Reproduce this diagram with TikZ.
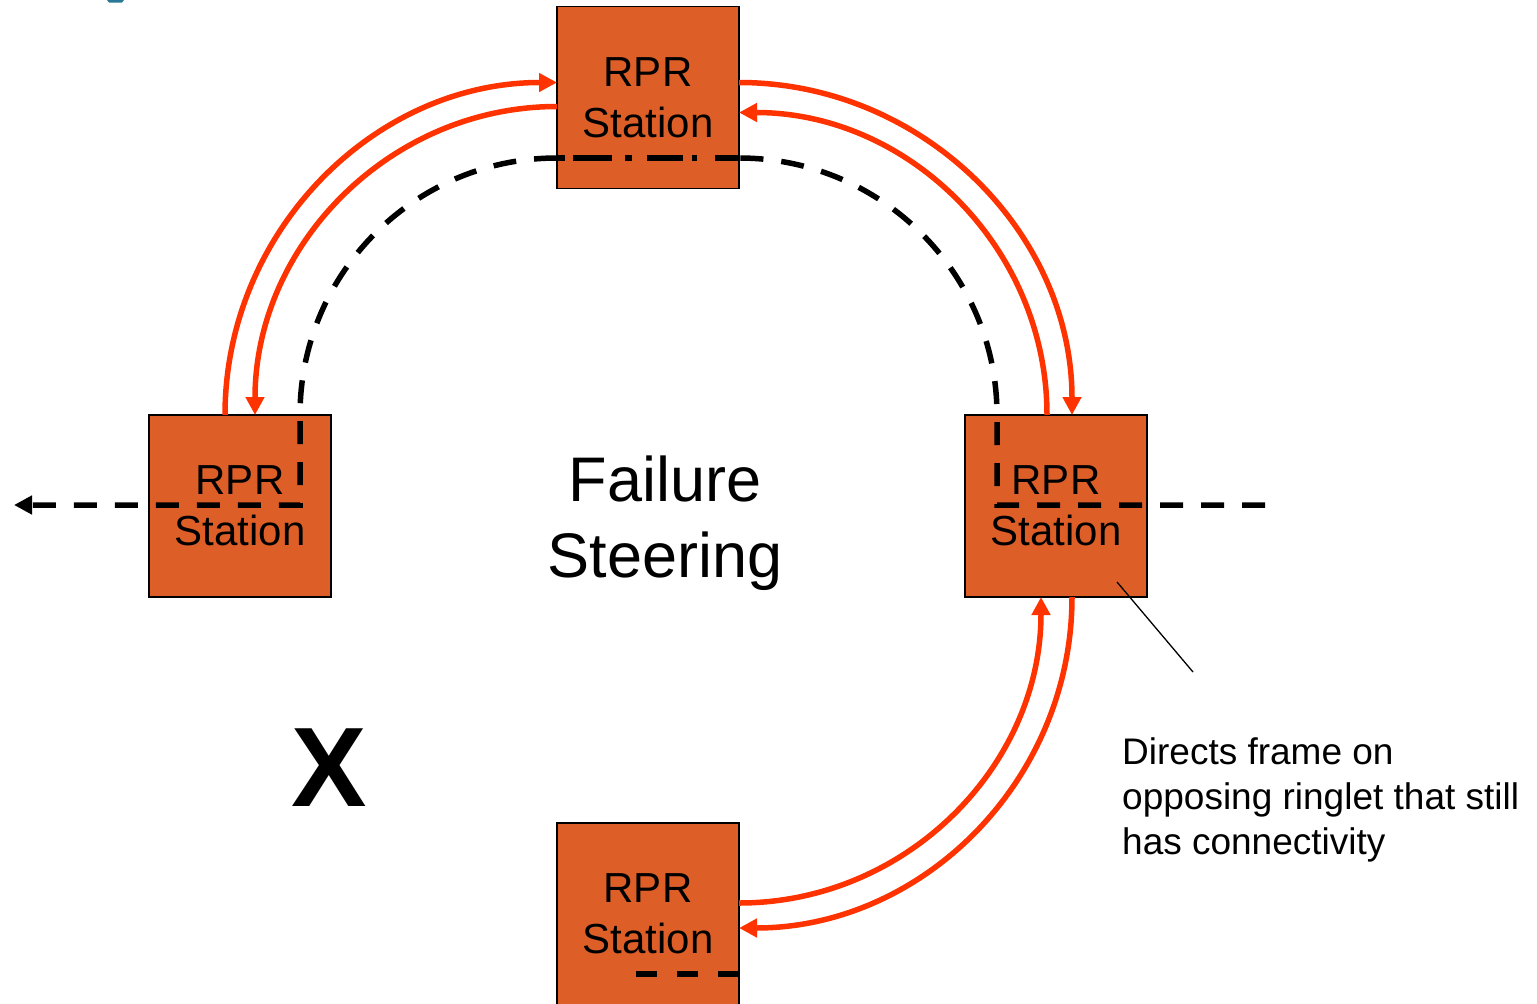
\documentclass[tikz,border=0pt]{standalone}
\usepackage{fontspec}
\setmainfont{Liberation Sans}
\usetikzlibrary{arrows.meta,calc}
\definecolor{boxfill}{RGB}{221,94,39}
\definecolor{ringred}{RGB}{255,51,0}
\definecolor{titleteal}{RGB}{40,120,150}
\begin{document}
\begin{tikzpicture}[x=1pt,y=-1pt,
  station/.style={draw=black, line width=1.6pt, fill=boxfill, minimum width=182pt,
    minimum height=182pt, inner sep=0pt, outer sep=0pt, align=center,
    font=\fontsize{42}{51}\selectfont},
  ring/.style={draw=ringred, line width=5.5pt},
  ringarrow/.style={ring, -{Triangle[length=18pt,width=18pt]}},
  dashpath/.style={draw=black, line width=5.5pt, dash pattern=on 23pt off 18pt},
  blacktip/.style={-{Triangle[length=18pt,width=18pt]}}
]
\useasboundingbox (0,0) rectangle (1537,1004);

% title fragment
\fill[titleteal] (107,0) -- (124,0) -- (122,2.5) -- (109,2.5) -- cycle;

% stations
\node[station] (T) at (648,97.5) {RPR\\Station};
\node[station] (L) at (240,506) {RPR\\Station};
\node[station] (R) at (1056,506) {RPR\\Station};
\node[station] (B) at (648,914) {RPR\\Station};

\coordinate (rgt) at (1265,505);
\coordinate (lft) at (14,505);
\coordinate (ptr) at (1193,672);

% red ringlet arcs
\draw[ringarrow] ($(L.north west)+(76,0)$) .. controls +(0,-183) and +(-183,0) .. ($(T.north west)+(0,76)$);
\draw[ringarrow] ($(T.north west)+(0,100)$) .. controls +(-167,0) and +(0,-170) .. ($(L.north west)+(106,0)$);
\draw[ringarrow] ($(T.north east)+(0,76)$) .. controls +(183,0) and +(0,-183) .. ($(R.north west)+(107,0)$);
\draw[ringarrow] ($(R.north west)+(82,0)$) .. controls +(0,-167) and +(170,0) .. ($(T.north east)+(0,106)$);
\draw[ringarrow] ($(B.north east)+(0,80)$) .. controls +(167,0) and +(0,169) .. ($(R.south west)+(76,0)$);
\draw[ringarrow] ($(R.south west)+(107,0)$) .. controls +(0,183) and +(184,0) .. ($(B.north east)+(0,105)$);

% steered dashed path
\draw[dashpath] (rgt) -- ($(R.north west)+(32,90)$) -- ($(R.north west)+(32,0)$)
  .. controls +(0,-142) and +(142,0) .. ($(T.north east)+(0,151.5)$);
\draw[black, line width=5.5pt, dash pattern=on 8pt off 8pt on 39pt off 13pt on 7pt off 15pt on 36pt off 9pt on 5pt off 18pt on 30pt off 10pt]
  ($(T.north west)+(0,151.5)$) -- ($(T.north east)+(0,151.5)$);
\draw[dashpath, blacktip] ($(T.north west)+(0,151.5)$) .. controls +(-142,0) and +(0,-142) .. ($(L.north east)+(-31,0)$)
  -- ($(L.north east)+(-31,90)$) -- (lft);
\draw[dashpath, dash pattern=on 21pt off 20pt] ($(B.north east)+(0,151)$) -- ($(B.north east)+(-106,151)$);

% labels
\node[font=\fontsize{63}{76}\selectfont, align=center] (fs) at (665,523.5) {Failure\\Steering};
\node[font=\bfseries\fontsize{113}{130}\selectfont, inner sep=0pt] (xmark) at (329.5,767.5) {X};
\node[font=\fontsize{37}{45}\selectfont, align=left, anchor=north west, inner sep=0pt] (note) at (1122,737)
  {Directs frame on\\opposing ringlet that still\\has connectivity};
\draw[line width=1.3pt] ($(R.south east)+(-30,-15)$) -- (ptr);
\end{tikzpicture}
\end{document}
